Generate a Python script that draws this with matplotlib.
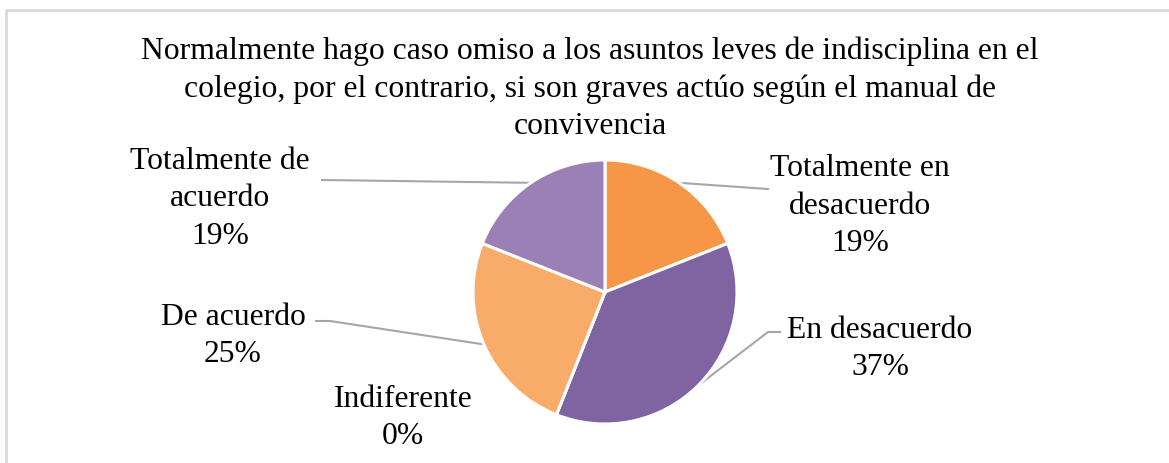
import numpy as np
import matplotlib
matplotlib.use('Agg')
from matplotlib import pyplot as plt

# Datos del gráfico
categorias = ['Totalmente en\ndesacuerdo', 'En desacuerdo', 'Indiferente',
              'De acuerdo', 'Totalmente de\nacuerdo']
porcentajes = [19, 37, 0, 25, 19]
colores = ['#F79646', '#8064A2', '#4BACC6', '#F9AC6A', '#9A80B4']
titulo = ('Normalmente hago caso omiso a los asuntos leves de indisciplina en el\n'
          'colegio, por el contrario, si son graves actúo según el manual de\n'
          'convivencia')

W, H = 1169, 463
plt.rcParams['font.family'] = ['Liberation Serif', 'DejaVu Serif']
FS = 22.8
LS = 1.38

fig = plt.figure(figsize=(W / 100, H / 100), dpi=100)
ax = fig.add_axes([0, 0, 1, 1])


def py(y):
    """Pasa coordenada de pixel (desde arriba) a coordenada de datos"""
    return H - y


centro = (605, py(292))
radio = 132

wedges, _ = ax.pie(porcentajes, colors=colores, startangle=90, counterclock=False,
                   center=centro, radius=radio,
                   wedgeprops=dict(edgecolor='white', linewidth=2.2))
ax.set_xlim(0, W)
ax.set_ylim(0, H)
ax.set_aspect('equal')
ax.axis('off')

# Marco del área del gráfico (solo se ven borde izquierdo y superior)
ax.plot([6, 6, W + 5], [-5, py(9.5), py(9.5)], color='#D9D9D9', lw=2, solid_capstyle='butt')

fig.text(590 / W, 1 - 89 / H, titulo, ha='center', va='center', fontsize=FS, linespacing=LS)

# Etiquetas: posición del texto y puntos de la línea guía (en pixeles)
etiquetas = {
    0: dict(xy=(860, 206), guia=[(768, 189)]),
    1: dict(xy=(880, 349), guia=[(768, 332), (780, 332)]),
    2: dict(xy=(403, 418), guia=None),
    3: dict(xy=(233, 336), guia=[(330, 321), (316, 321)]),
    4: dict(xy=(220, 199), guia=[(322, 180)]),
}

for i, w in enumerate(wedges):
    opt = etiquetas[i]
    texto = '{}\n{}%'.format(categorias[i], porcentajes[i])
    ax.text(opt['xy'][0], py(opt['xy'][1]), texto, ha='center', va='center',
            fontsize=FS, linespacing=LS)
    if opt['guia']:
        ang = np.deg2rad((w.theta1 + w.theta2) / 2)
        x0 = centro[0] + radio * np.cos(ang)
        y0 = centro[1] + radio * np.sin(ang)
        xs = [x0] + [p[0] for p in opt['guia']]
        ys = [y0] + [py(p[1]) for p in opt['guia']]
        ax.plot(xs, ys, color='#A6A6A6', lw=1.5, zorder=0)

fig.savefig('out.png', dpi=100, facecolor='white')
